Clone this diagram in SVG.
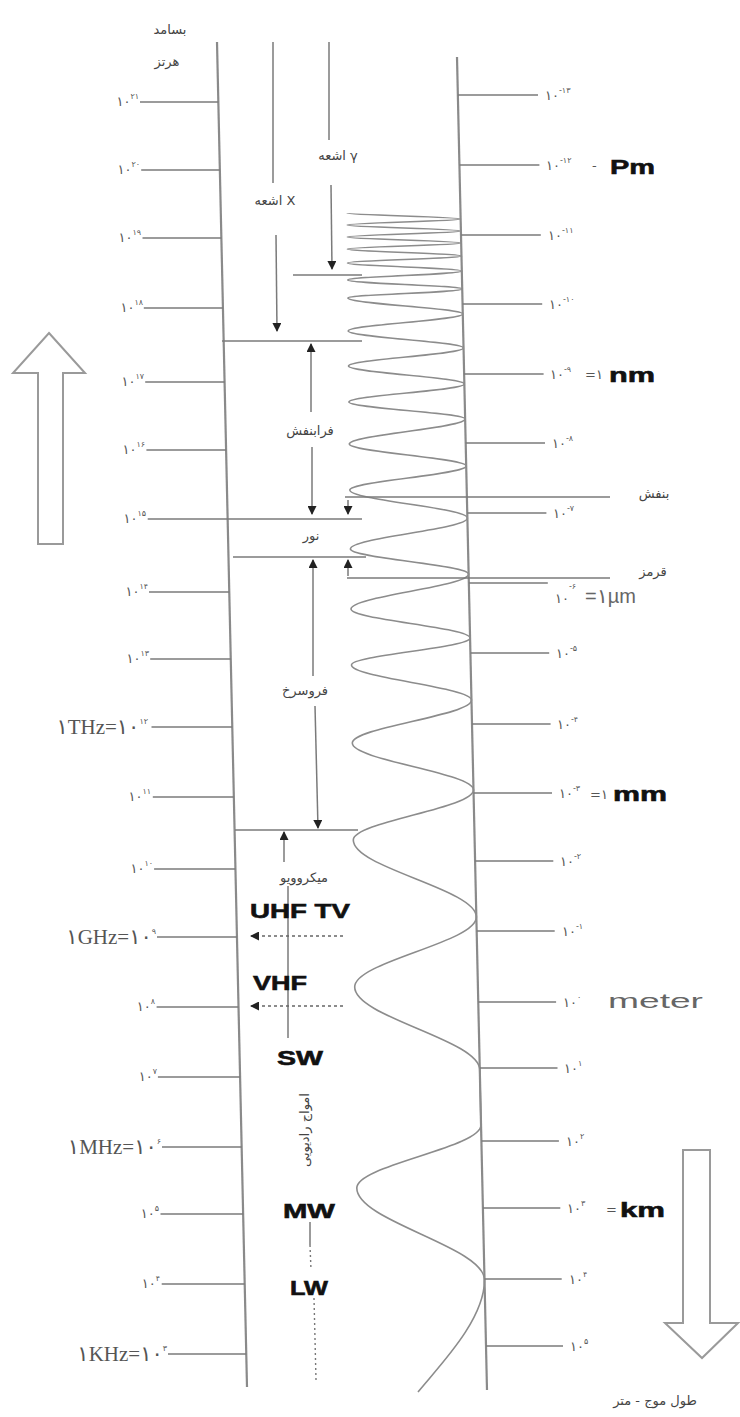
<svg xmlns="http://www.w3.org/2000/svg" width="740" height="1417" viewBox="0 0 740 1417">
<style>
.axis{stroke:#8a8a8a;stroke-width:2.2;fill:none}
.tick{stroke:#7a7a7a;stroke-width:1.6;fill:none}
.wave{stroke:#8c8c8c;stroke-width:1.6;fill:none}
.conn{stroke:#7a7a7a;stroke-width:1.5;fill:none}
.dash{stroke:#666;stroke-width:1.3;fill:none;stroke-dasharray:3,3}
.dot{stroke:#777;stroke-width:1.4;fill:none;stroke-dasharray:2,3}
.big{fill:#fff;stroke:#9a9a9a;stroke-width:2}
.num{font-family:"DejaVu Sans",sans-serif;font-size:13px;fill:#555}
.ltr{direction:ltr;unicode-bidi:bidi-override}
.sup{font-size:8px}
.unitL{font-family:"Liberation Serif","DejaVu Sans",serif;font-size:21px;fill:#555;text-anchor:end}
.fa{font-family:"DejaVu Sans",sans-serif;font-size:13px;fill:#444;text-anchor:middle}
.bold{font-family:"Liberation Sans",Arial,sans-serif;font-weight:bold;font-size:21px;fill:#111;stroke:#111;stroke-width:0.6}
.reg{font-family:"Liberation Sans",Arial,sans-serif;font-size:20px;fill:#666}
</style>
<defs>
<marker id="ah" markerUnits="userSpaceOnUse" markerWidth="9" markerHeight="9" refX="8" refY="4.5" orient="auto">
<path d="M0,0 L9,4.5 L0,9 z" fill="#222"/>
</marker>
</defs>
<rect width="740" height="1417" fill="#fff"/>

<g id="big-arrows">
<polygon class="big" points="49,333 85,373 63,373 63,544 38,544 38,373 13,373"/>
<polygon class="big" points="683,1150 710,1150 710,1323 738,1323 702,1358 665,1323 683,1323"/>
</g>

<g id="axes">
<line class="axis" x1="217" y1="42" x2="247" y2="1387"/>
<line class="axis" x1="457" y1="57" x2="487" y2="1390"/>
</g>

<g id="freq-ticks">
<line class="tick" x1="140" y1="102" x2="218.3" y2="102"/>
<line class="tick" x1="141.2" y1="170" x2="219.9" y2="170"/>
<line class="tick" x1="142.5" y1="238" x2="221.4" y2="238"/>
<line class="tick" x1="143.8" y1="308" x2="222.9" y2="308"/>
<line class="tick" x1="145.2" y1="382" x2="224.6" y2="382"/>
<line class="tick" x1="146.4" y1="450" x2="226.1" y2="450"/>
<line class="tick" x1="147.7" y1="519" x2="362" y2="519"/>
<line class="tick" x1="149" y1="592" x2="229.3" y2="592"/>
<line class="tick" x1="150.2" y1="659" x2="230.8" y2="659"/>
<line class="tick" x1="151.5" y1="727" x2="232.3" y2="727"/>
<line class="tick" x1="152.8" y1="797" x2="233.8" y2="797"/>
<line class="tick" x1="154.1" y1="869" x2="235.5" y2="869"/>
<line class="tick" x1="157" y1="937" x2="237" y2="937"/>
<line class="tick" x1="156.6" y1="1007" x2="238.5" y2="1007"/>
<line class="tick" x1="157.9" y1="1077" x2="240.1" y2="1077"/>
<line class="tick" x1="162" y1="1147" x2="241.7" y2="1147"/>
<line class="tick" x1="160.5" y1="1214" x2="243.2" y2="1214"/>
<line class="tick" x1="161.7" y1="1284" x2="244.7" y2="1284"/>
<line class="tick" x1="168" y1="1354" x2="246.3" y2="1354"/>
</g>

<g id="freq-labels" text-anchor="end">
<text class="num" x="139" y="106">۱۰<tspan class="sup" dy="-7">۲۱</tspan></text>
<text class="num" x="140" y="174">۱۰<tspan class="sup" dy="-7">۲۰</tspan></text>
<text class="num" x="141" y="242">۱۰<tspan class="sup" dy="-7">۱۹</tspan></text>
<text class="num" x="143" y="312">۱۰<tspan class="sup" dy="-7">۱۸</tspan></text>
<text class="num" x="144" y="386">۱۰<tspan class="sup" dy="-7">۱۷</tspan></text>
<text class="num" x="145" y="454">۱۰<tspan class="sup" dy="-7">۱۶</tspan></text>
<text class="num" x="146" y="523">۱۰<tspan class="sup" dy="-7">۱۵</tspan></text>
<text class="num" x="148" y="596">۱۰<tspan class="sup" dy="-7">۱۴</tspan></text>
<text class="num" x="149" y="663">۱۰<tspan class="sup" dy="-7">۱۳</tspan></text>
<text class="num" x="151" y="801">۱۰<tspan class="sup" dy="-7">۱۱</tspan></text>
<text class="num" x="153" y="873">۱۰<tspan class="sup" dy="-7">۱۰</tspan></text>
<text class="num" x="155" y="1011">۱۰<tspan class="sup" dy="-7">۸</tspan></text>
<text class="num" x="157" y="1081">۱۰<tspan class="sup" dy="-7">۷</tspan></text>
<text class="num" x="159" y="1218">۱۰<tspan class="sup" dy="-7">۵</tspan></text>
<text class="num" x="160" y="1288">۱۰<tspan class="sup" dy="-7">۴</tspan></text>
</g>
<g id="freq-unit-labels">
<text class="unitL" x="148" y="734">۱THz=۱۰<tspan class="sup" font-size="10" dy="-10">۱۲</tspan></text>
<text class="unitL" x="156" y="944">۱GHz=۱۰<tspan class="sup" font-size="10" dy="-10">۹</tspan></text>
<text class="unitL" x="161" y="1154">۱MHz=۱۰<tspan class="sup" font-size="10" dy="-10">۶</tspan></text>
<text class="unitL" x="167" y="1361">۱KHz=۱۰<tspan class="sup" font-size="10" dy="-10">۳</tspan></text>
</g>

<g id="wave">
<path class="wave" d="M347,213 C347,215.2 460.6,216.8 460.6,219 C460.6,221.2 347.1,222.8 347.1,225 C347.1,227.2 460.9,228.8 460.9,231 C460.9,233.2 347.2,234.8 347.2,237 C347.2,239.2 461.2,240.8 461.2,243 C461.2,245.2 347.4,246.8 347.4,249 C347.4,251.5 461.5,253.5 461.5,256 C461.5,258.5 347.5,260.5 347.5,263 C347.5,265.9 461.8,268.1 461.8,271 C461.8,274.3 347.7,276.7 347.7,280 C347.7,283.3 462.2,285.7 462.2,289 C462.2,292.3 347.9,294.7 347.9,298 C347.9,303.8 462.8,308.2 462.8,314 C462.8,320.2 348.2,324.8 348.2,331 C348.2,337.2 463.5,341.8 463.5,348 C463.5,354.6 348.5,359.4 348.5,366 C348.5,372.6 464.4,377.4 464.4,384 C464.4,390.6 348.9,395.4 348.9,402 C348.9,408.2 465.1,412.8 465.1,419 C465.1,428.1 349.3,434.9 349.3,444 C349.3,452 466.2,458 466.2,466 C466.2,474.7 349.8,481.3 349.8,490 C349.8,500.2 467.4,507.8 467.4,518 C467.4,529.3 350.4,537.7 350.4,549 C350.4,558.1 468.6,564.9 468.6,574 C468.6,586.7 351,596.3 351,609 C351,619.6 470.1,627.4 470.1,638 C470.1,647.8 351.5,655.2 351.5,665 C351.5,677.7 471.5,687.3 471.5,700 C471.5,715.7 352.3,727.3 352.3,743 C352.3,760.1 473.5,772.9 473.5,790 C473.5,808.2 353.3,821.8 353.3,840 C353.3,868 476.4,889 476.4,917 C476.4,942.5 354.7,961.5 354.7,987 C354.7,1017.2 479.8,1039.8 479.8,1070 L481,1125 C481,1147.9 356.8,1165.1 356.8,1188 C356.8,1221.5 484.5,1246.5 484.5,1280 C484.5,1320 440,1365 418,1392"/>
</g>

<g id="wl-ticks">
<line class="tick" x1="457.9" y1="95" x2="538" y2="95"/>
<line class="tick" x1="459.4" y1="165" x2="539.4" y2="165"/>
<line class="tick" x1="461" y1="235" x2="540.8" y2="235"/>
<line class="tick" x1="462.6" y1="304" x2="542.2" y2="304"/>
<line class="tick" x1="464.1" y1="374" x2="543.6" y2="374"/>
<line class="tick" x1="465.7" y1="443" x2="545" y2="443"/>
<line class="tick" x1="467.3" y1="513" x2="546.4" y2="513"/>
<line class="tick" x1="468.8" y1="583" x2="547.8" y2="583"/>
<line class="tick" x1="470.4" y1="653" x2="549.2" y2="653"/>
<line class="tick" x1="472" y1="724" x2="550.6" y2="724"/>
<line class="tick" x1="473.6" y1="793" x2="552" y2="793"/>
<line class="tick" x1="475.1" y1="861" x2="553.3" y2="861"/>
<line class="tick" x1="476.7" y1="931" x2="554.7" y2="931"/>
<line class="tick" x1="478.3" y1="1002" x2="556.1" y2="1002"/>
<line class="tick" x1="479.7" y1="1068" x2="557.5" y2="1068"/>
<line class="tick" x1="481.4" y1="1141" x2="558.9" y2="1141"/>
<line class="tick" x1="482.9" y1="1208" x2="560.3" y2="1208"/>
<line class="tick" x1="484.5" y1="1279" x2="561.7" y2="1279"/>
<line class="tick" x1="486" y1="1346" x2="563" y2="1346"/>
</g>

<g id="wl-labels">
<text class="num" x="545" y="100">۱۰<tspan class="sup" dy="-7">-۱۳</tspan></text>
<text class="num" x="546" y="170">۱۰<tspan class="sup" dy="-7">-۱۲</tspan></text>
<text class="num" x="548" y="240">۱۰<tspan class="sup" dy="-7">-۱۱</tspan></text>
<text class="num" x="549" y="309">۱۰<tspan class="sup" dy="-7">-۱۰</tspan></text>
<text class="num" x="550" y="379">۱۰<tspan class="sup" dy="-7">-۹</tspan></text>
<text class="num ltr" x="585" y="379">=۱</text>
<text class="num" x="552" y="448">۱۰<tspan class="sup" dy="-7">-۸</tspan></text>
<text class="num" x="553" y="518">۱۰<tspan class="sup" dy="-7">-۷</tspan></text>
<text class="num" x="555" y="603">۱۰<tspan class="sup" dy="-14">-۶</tspan></text>
<text class="reg ltr" x="585" y="603" font-size="18">=۱µm</text>
<text class="num" x="556" y="658">۱۰<tspan class="sup" dy="-7">-۵</tspan></text>
<text class="num" x="557" y="729">۱۰<tspan class="sup" dy="-7">-۴</tspan></text>
<text class="num" x="559" y="798">۱۰<tspan class="sup" dy="-7">-۳</tspan></text>
<text class="num ltr" x="590" y="799">=۱</text>
<text class="num" x="560" y="866">۱۰<tspan class="sup" dy="-7">-۲</tspan></text>
<text class="num" x="562" y="936">۱۰<tspan class="sup" dy="-7">-۱</tspan></text>
<text class="num" x="563" y="1007">۱۰<tspan class="sup" dy="-7">۰</tspan></text>
<text class="num" x="564" y="1073">۱۰<tspan class="sup" dy="-7">۱</tspan></text>
<text class="num" x="566" y="1146">۱۰<tspan class="sup" dy="-7">۲</tspan></text>
<text class="num" x="567" y="1213">۱۰<tspan class="sup" dy="-7">۳</tspan></text>
<text class="num" x="606" y="1214">=</text>
<text class="num" x="569" y="1284">۱۰<tspan class="sup" dy="-7">۴</tspan></text>
<text class="num" x="570" y="1351">۱۰<tspan class="sup" dy="-7">۵</tspan></text>
<text class="num" x="592" y="170" font-size="14">-</text>
<text class="bold" x="610" y="174" textLength="45" lengthAdjust="spacingAndGlyphs">Pm</text>
<text class="bold" x="609" y="382" textLength="46" lengthAdjust="spacingAndGlyphs">nm</text>
<text class="bold" x="613" y="801" textLength="54" lengthAdjust="spacingAndGlyphs">mm</text>
<text class="reg" x="608" y="1008" textLength="95" lengthAdjust="spacingAndGlyphs">meter</text>
<text class="bold" x="620" y="1217" textLength="45" lengthAdjust="spacingAndGlyphs">km</text>
</g>

<g id="connectors">
<line class="conn" x1="329" y1="42" x2="329" y2="140"/>
<line class="conn" x1="331" y1="185" x2="332" y2="269" marker-end="url(#ah)"/>
<line class="conn" x1="273" y1="42" x2="273" y2="183"/>
<line class="conn" x1="276" y1="235" x2="277" y2="331" marker-end="url(#ah)"/>
<line class="conn" x1="293" y1="275" x2="362" y2="275"/>
<line class="conn" x1="222" y1="341" x2="362" y2="341"/>
<line class="conn" x1="311" y1="412" x2="311" y2="344" marker-end="url(#ah)"/>
<line class="conn" x1="312" y1="447" x2="312" y2="514" marker-end="url(#ah)"/>
<line class="conn" x1="345" y1="497" x2="610" y2="497"/>
<line class="conn" x1="348" y1="500" x2="348" y2="514" marker-end="url(#ah)"/>
<line class="conn" x1="233" y1="557" x2="366" y2="557"/>
<line class="conn" x1="347" y1="578" x2="610" y2="578"/>
<line class="conn" x1="348" y1="576" x2="348" y2="560" marker-end="url(#ah)"/>
<line class="conn" x1="313" y1="676" x2="313" y2="560" marker-end="url(#ah)"/>
<line class="conn" x1="315" y1="706" x2="318" y2="828" marker-end="url(#ah)"/>
<line class="conn" x1="235" y1="830" x2="358" y2="830"/>
<line class="conn" x1="284" y1="862" x2="284" y2="832" marker-end="url(#ah)"/>
<line class="conn" x1="288" y1="886" x2="288" y2="1038"/>
<line class="dash" x1="343" y1="936" x2="251" y2="936" marker-end="url(#ah)"/>
<line class="dash" x1="343" y1="1006" x2="251" y2="1006" marker-end="url(#ah)"/>
<line class="conn" x1="310" y1="1222" x2="310" y2="1245"/>
<line class="dot" x1="310" y1="1245" x2="311" y2="1270"/>
<line class="dot" x1="314" y1="1298" x2="316" y2="1380"/>
</g>

<g id="region-labels">
<text class="fa" x="170" y="34">بسامد</text>
<text class="fa" x="167" y="66">هرتز</text>
<text class="fa" x="275" y="205">اشعه X</text>
<text class="fa" x="338" y="160">اشعه γ</text>
<text class="fa" x="310" y="435">فرابنفش</text>
<text class="fa" x="311" y="540">نور</text>
<text class="fa" x="305" y="695">فروسرخ</text>
<text class="fa" x="304" y="882">میکروویو</text>
<text class="fa" x="654" y="498">بنفش</text>
<text class="fa" x="653" y="576">قرمز</text>
<text class="fa" x="655" y="1405">طول موج - متر</text>
<text class="fa" transform="translate(309,1130) rotate(-90)">امواج رادیویی</text>
<text class="bold" x="250" y="918" textLength="100" lengthAdjust="spacingAndGlyphs">UHF TV</text>
<text class="bold" x="253" y="990" textLength="54" lengthAdjust="spacingAndGlyphs">VHF</text>
<text class="bold" x="277" y="1065" textLength="46" lengthAdjust="spacingAndGlyphs">SW</text>
<text class="bold" x="283" y="1218" textLength="52" lengthAdjust="spacingAndGlyphs">MW</text>
<text class="bold" x="290" y="1295" textLength="38" lengthAdjust="spacingAndGlyphs">LW</text>
</g>
</svg>
